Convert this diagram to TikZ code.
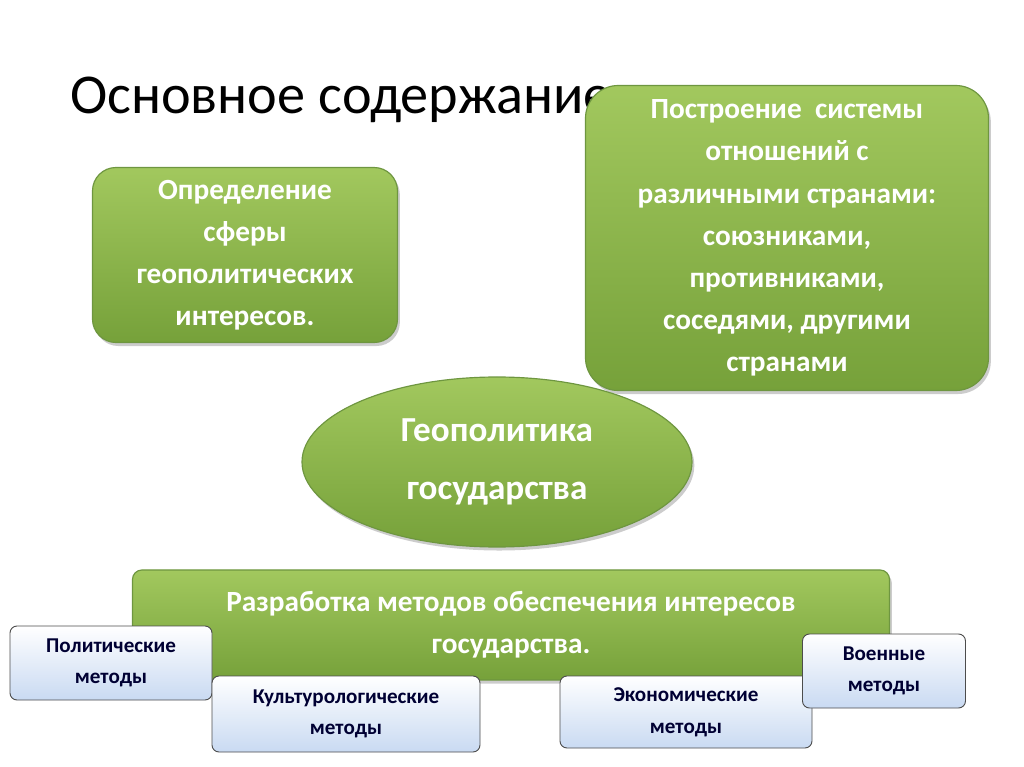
\documentclass[tikz,border=0pt]{standalone}
\usepackage{fontspec}
\setmainfont{Carlito}
\usetikzlibrary{shapes.geometric,shadows}
\definecolor{greentop}{HTML}{A2C85E}
\definecolor{greenbot}{HTML}{76A13A}
\definecolor{greenline}{HTML}{6E9640}
\definecolor{bluebot}{HTML}{C9DAF2}
\tikzset{
  greenbox/.style={draw=greenline, line width=1pt, rounded corners=20pt,
    top color=greentop, bottom color=greenbot,
    text=white, font=\bfseries\fontsize{25}{36}\selectfont, align=center,
    drop shadow={shadow xshift=2pt, shadow yshift=-3pt, opacity=0.4}},
  bluebox/.style={draw=black!70, line width=0.8pt, rounded corners=6pt,
    top color=white, bottom color=bluebot,
    text=blue!20!black, font=\bfseries\fontsize{18}{27}\selectfont, align=center}
}
\begin{document}
\begin{tikzpicture}[x=0.03cm, y=-0.03cm]
  \useasboundingbox (0,0) rectangle (1024,767);
  \node[anchor=west, font=\fontsize{48}{54}\selectfont] (title) at (66,100) {Основное содержание};
  \node[greenbox, minimum width=305*0.03cm, minimum height=175*0.03cm] (sphere) at (245,255)
    {Определение\\сферы\\геополитических\\интересов.};
  \node[greenbox, rounded corners=28pt, minimum width=403*0.03cm, minimum height=305*0.03cm] (relations) at (787,238)
    {Построение \ системы\\отношений с\\различными странами:\\союзниками,\\противниками,\\соседями, другими\\странами};
  \node[greenbox, ellipse, font=\bfseries\fontsize{30}{50}\selectfont,
    minimum width=390*0.03cm, minimum height=170*0.03cm] (geo) at (497,462)
    {Геополитика\\государства};
  \node[greenbox, rounded corners=8pt, minimum width=757*0.03cm, minimum height=110*0.03cm] (methods) at (511,625)
    {Разработка методов обеспечения интересов\\государства.};
  \node[bluebox, minimum width=202*0.03cm, minimum height=74*0.03cm] (polit) at (111,663)
    {Политические\\методы};
  \node[bluebox, minimum width=268*0.03cm, minimum height=76*0.03cm] (cult) at (346,714)
    {Культурологические\\методы};
  \node[bluebox, minimum width=252*0.03cm, minimum height=72*0.03cm] (econ) at (686,712)
    {Экономические\\методы};
  \node[bluebox, minimum width=163*0.03cm, minimum height=74*0.03cm] (mil) at (884,671)
    {Военные\\методы};
\end{tikzpicture}
\end{document}
